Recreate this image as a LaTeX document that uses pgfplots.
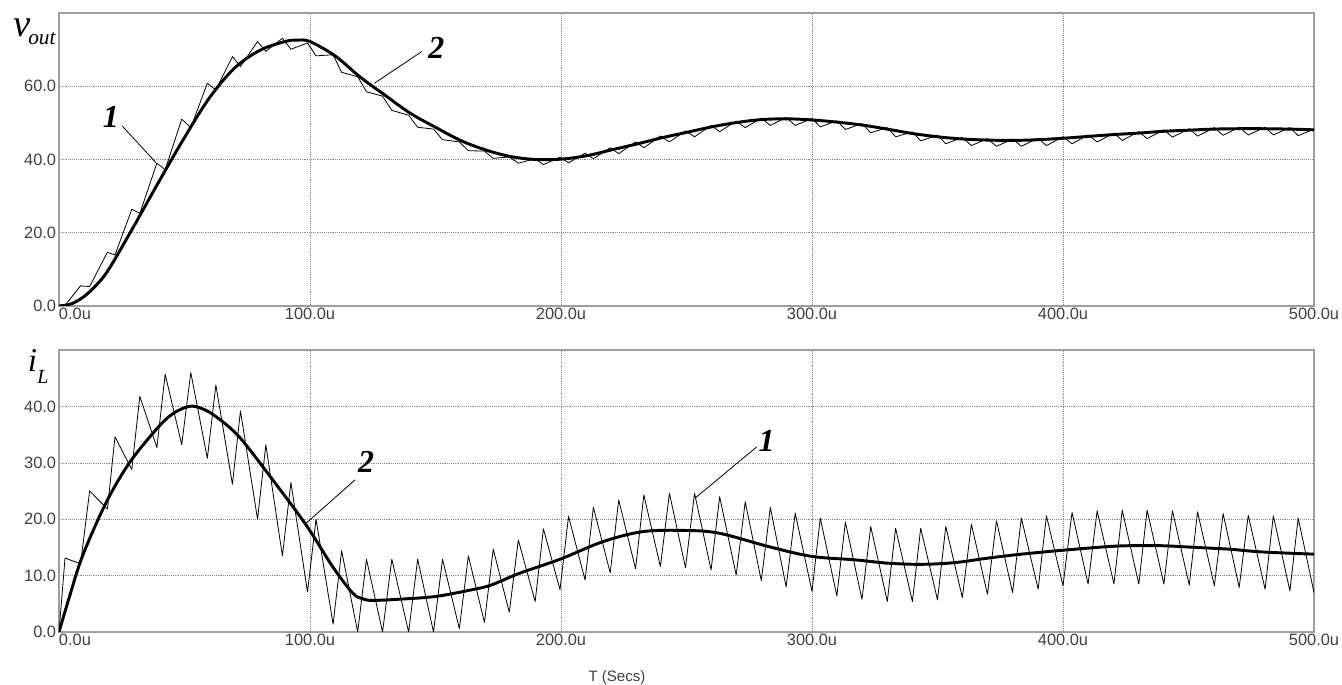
\documentclass[border=0pt]{standalone}
\usepackage{pgfplots}
\pgfplotsset{compat=1.18}
\usepackage{fontspec}
\setmainfont{Liberation Sans}
\newfontfamily\serif{Liberation Serif}
\definecolor{frame}{gray}{0.62}
\definecolor{ticktext}{gray}{0.25}
\tikzset{lab/.style={font=\serif\bfseries\itshape\fontsize{24}{24}\selectfont, inner sep=0pt}}
\pgfplotsset{
  myax/.style={
    scale only axis, width=941.25pt,
    xmin=0, xmax=500, xtick={0,100,200,300,400,500},
    xticklabels={\makebox[0pt][l]{0.0u},100.0u,200.0u,300.0u,400.0u,500.0u},
    grid=major,
    major grid style={densely dotted, gray!90, line width=0.45pt},
    axis line style={draw=frame, line width=1.1pt},
    major tick length=0pt,
    tick label style={font=\fontsize{12.3}{14}\selectfont, text=ticktext},
    xticklabel style={anchor=north, inner sep=1pt, yshift=0pt},
    yticklabel style={anchor=east, inner sep=2pt,
      /pgf/number format/fixed, /pgf/number format/fixed zerofill,
      /pgf/number format/precision=1},
    /pgf/number format/assume math mode=true,
    clip mode=individual,
  },
  s1/.style={black, line width=0.6pt, line join=round},
  s2/.style={black, line width=2.2pt, smooth, tension=0.55},
}
\begin{document}
\begin{tikzpicture}
\path[use as bounding box] (-44.25pt,9.75pt) rectangle (962.25pt,-504pt);
% ---------------- top: v_out
\begin{axis}[myax, at={(0,0)}, anchor=north west, height=219.75pt,
  ymin=0, ymax=80, ytick={0,20,40,60}]
\addplot[s1] coordinates {
(0,0) (2.4,0.2) (8.6,5.5) (12.2,5.3) (19.3,14.7) (22.3,13.9) (29.0,26.4) (32.2,25.3)
(39.0,39.0) (42.3,37.2) (48.9,51.0) (52.5,48.7) (59.1,60.8) (62.5,59.0) (69.1,68.1)
(72.3,65.4) (79.1,72.2) (82.4,69.5) (89.0,73.1) (92.4,70.1) (99.0,71.8) (102.4,68.3)
(109.2,68.6) (112.6,63.8) (119.0,62.6) (122.5,58.5) (128.9,57.3) (132.6,53.4)
(139.3,52.1) (142.9,48.8) (149.2,48.3) (152.8,45.4) (159.5,44.8) (163.1,42.4)
(169.5,42.3) (173.0,40.3) (179.4,40.7) (183.0,39.0) (189.7,40.2) (193.0,38.6)
(199.6,40.6) (203.0,39.1) (209.6,41.7) (212.9,40.2) (219.6,43.2) (223.0,41.6)
(229.7,44.8) (233.0,43.2) (239.6,46.4) (243.2,44.8) (249.6,47.8) (253.2,46.2)
(259.8,49.3) (263.2,47.6) (269.8,50.5) (273.4,48.7) (279.8,51.3) (283.4,49.3)
(289.7,51.5) (293.3,49.3) (300.0,51.2) (303.3,48.9) (309.9,50.6) (313.3,48.2)
(319.9,49.8) (323.4,47.3) (330.0,48.7) (333.3,46.2) (340.0,47.5) (343.3,45.1)
(350.0,46.6) (353.3,44.3) (359.9,46.0) (363.5,43.8) (369.9,45.7) (373.5,43.6)
(379.9,45.6) (383.4,43.6) (390.1,45.8) (393.4,43.8) (400.0,46.2) (403.6,44.3)
(410.0,46.7) (413.6,44.8) (420.3,47.2) (423.6,45.2) (430.2,47.6) (433.5,45.7)
(440.2,48.1) (443.6,46.1) (450.3,48.4) (453.6,46.4) (460.3,48.7) (463.8,46.6)
(470.2,48.8) (473.8,46.7) (480.5,48.8) (483.8,46.7) (490.4,48.7) (493.7,46.5) (500,48.3)
};
\addplot[s2] coordinates {
(0,0) (5,0.6) (10,2.6) (15,5.8) (20,10.2) (30,22.0) (40,34.2) (50,46.0) (60,56.9)
(70,65.0) (80,69.8) (90,72.2) (95,72.6) (100,72.2) (110,68.3) (120,62.5) (130,57.5)
(140,52.6) (150,48.8) (160,45.2) (170,42.6) (180,40.8) (190,40.0) (200,40.1) (210,41.0)
(220,42.6) (230,44.2) (240,45.9) (250,47.4) (260,48.9) (270,50.1) (280,50.9) (290,51.1)
(300,50.8) (310,50.2) (320,49.4) (330,48.3) (340,47.1) (350,46.2) (360,45.6) (370,45.3)
(380,45.2) (390,45.4) (400,45.8) (410,46.3) (420,46.8) (430,47.2) (440,47.7) (450,48.0)
(460,48.3) (470,48.4) (480,48.4) (490,48.3) (500,48.1)
};
\draw[black, line width=0.6pt] (axis cs:25.1,49.2) -- (axis cs:38.7,39.1);
\node[lab] at (axis cs:20.7,51.6) {1};
\draw[black, line width=0.6pt] (axis cs:144.6,69.5) -- (axis cs:125.6,60.8);
\node[lab] at (axis cs:150.3,70.6) {2};
\end{axis}
% ---------------- bottom: i_L
\begin{axis}[myax, at={(0,-252.75pt)}, anchor=north west, height=211.5pt,
  ymin=0, ymax=50, ytick={0,10,20,30,40}]
\addplot[s1] coordinates {
(0,0) (2.4,13.1) (8.6,12.1) (12.2,25.0) (19.3,21.8) (22.3,34.6) (29.0,28.8) (32.2,41.8)
(39.0,32.7) (42.3,45.7) (48.9,33.2) (52.5,46.0) (59.1,30.8) (62.5,43.8) (69.1,26.2)
(72.3,39.2) (79.1,20.0) (82.4,33.2) (89.0,13.5) (92.4,26.5) (99.0,7.1) (102.4,20.0)
(109.2,1.4) (112.6,14.4) (119.0,0) (122.5,12.9) (128.9,0) (132.6,12.9) (139.3,0)
(142.9,12.9) (149.2,0) (152.8,12.9) (159.5,0.6) (163.1,13.5) (169.5,1.7) (173.0,14.7)
(179.4,3.5) (183.0,16.3) (189.7,5.4) (193.0,18.3) (199.6,7.5) (203.0,20.5) (209.6,9.2)
(212.9,22.1) (219.6,10.5) (223.0,23.4) (229.7,11.2) (233.0,24.3) (239.6,11.6)
(243.2,24.6) (249.6,11.4) (253.2,24.6) (259.8,11.0) (263.2,24.0) (269.8,10.1)
(273.4,23.1) (279.8,9.1) (283.4,22.1) (289.7,8.0) (293.3,21.1) (300.0,7.2) (303.3,20.2)
(309.9,6.4) (313.3,19.5) (319.9,5.8) (323.4,18.7) (330.0,5.4) (333.3,18.4) (340.0,5.4)
(343.3,18.4) (350.0,5.7) (353.3,18.7) (359.9,6.1) (363.5,19.1) (369.9,6.7) (373.5,19.7)
(379.9,7.0) (383.4,20.2) (390.1,7.6) (393.4,20.6) (400.0,8.2) (403.6,21.2) (410.0,8.5)
(413.6,21.5) (420.3,8.5) (423.6,21.6) (430.2,8.5) (433.5,21.6) (440.2,8.5) (443.6,21.5)
(450.3,8.3) (453.6,21.3) (460.3,8.2) (463.8,21.0) (470.2,7.9) (473.8,20.7) (480.5,7.6)
(483.8,20.6) (490.4,7.3) (493.7,20.2) (500,7.0)
};
\addplot[s2] coordinates {
(0,0) (4,6.0) (9.3,13.4) (18.6,22.8) (27.9,29.9) (38.5,35.8) (45,38.6) (51.8,40.0)
(57,39.6) (62.5,38.2) (71.8,34.6) (85.1,27.0) (98.4,19.0) (109,11.6) (117,6.9)
(121,5.9) (125,5.6) (137,5.85) (150,6.3) (163.5,7.4) (172,8.3) (183.4,10.4)
(199.6,12.9) (216.6,16.0) (232.6,17.8) (249.9,18.0) (263.2,17.5) (283.1,15.1)
(300,13.4) (317,12.8) (330.3,12.2) (343.6,12.0) (356.9,12.3) (370.1,13.1) (383.4,13.8)
(400,14.5) (416.7,15.1) (426,15.3) (439.2,15.3) (452.6,15.0) (465.8,14.7) (479.1,14.2)
(500,13.8)
};
\draw[black, line width=0.6pt] (axis cs:118,27) -- (axis cs:98.5,19.3);
\node[lab] at (axis cs:122.4,30.1) {2};
\draw[black, line width=0.6pt] (axis cs:277.9,32.8) -- (axis cs:253.6,23.8);
\node[lab] at (axis cs:281.9,33.9) {1};
\end{axis}
% ---------------- side labels
\node[anchor=base west, inner sep=0pt] at (-34.5pt,-17.5pt)
  {\serif\itshape\fontsize{29}{29}\selectfont v};
\node[anchor=base west, inner sep=0pt] at (-23.25pt,-23.5pt)
  {\serif\itshape\fontsize{16}{16}\selectfont out};
\node[anchor=base west, inner sep=0pt] at (-23.5pt,-268.5pt)
  {\serif\itshape\fontsize{25}{25}\selectfont i};
\node[anchor=base west, inner sep=0pt] at (-16.5pt,-277.5pt)
  {\serif\itshape\fontsize{15}{15}\selectfont L};
\node[anchor=base, inner sep=0pt, text=ticktext] at (418.5pt,-501pt)
  {\fontsize{11.3}{13}\selectfont T (Secs)};
\end{tikzpicture}
\end{document}
